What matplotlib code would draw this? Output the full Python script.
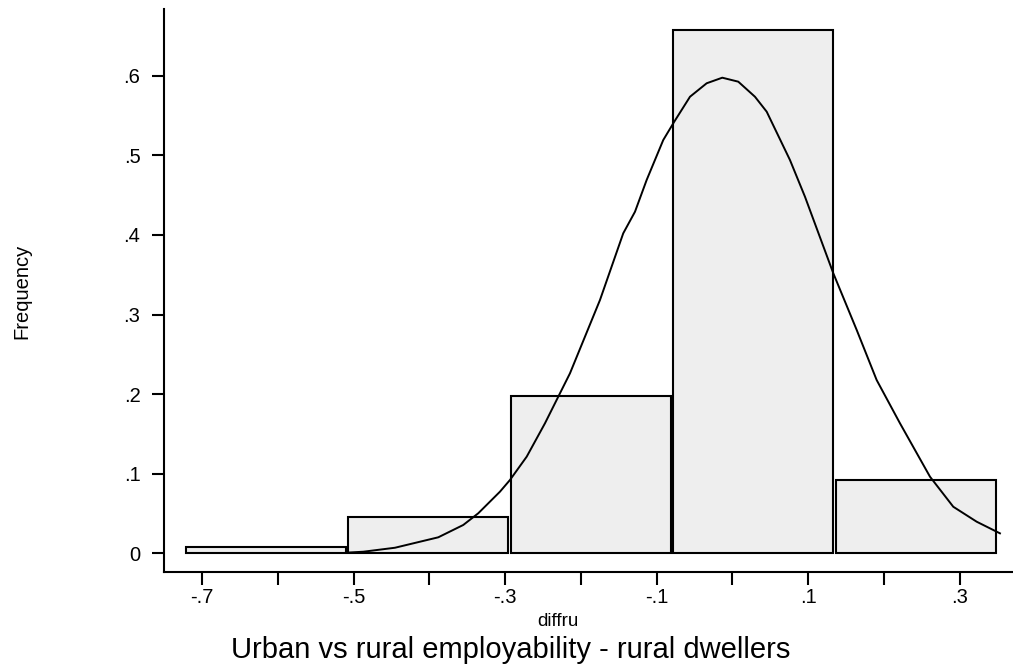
import matplotlib
matplotlib.use("Agg")
import matplotlib.pyplot as plt
import numpy as np

# Histogram bins (left edges, width) and heights
bin_left = [-0.7211, -0.5067, -0.2923, -0.0779, 0.1365]
bin_width = 0.2144
heights = [0.0085, 0.046, 0.197, 0.657, 0.092]

# Overlay curve points
curve_x = [-0.510, -0.4871, -0.4453, -0.3882, -0.3552, -0.3354, -0.3068, -0.2936,
           -0.2715, -0.2474, -0.2276, -0.2144, -0.1748, -0.1441, -0.1286, -0.1132,
           -0.0913, -0.0768, -0.0560, -0.0340, -0.0134, 0.0077, 0.0297, 0.0452,
           0.0759, 0.0957, 0.1331, 0.1640, 0.1903, 0.2211, 0.2607, 0.2914,
           0.3223, 0.3530]
curve_y = [0.0008, 0.0020, 0.0070, 0.0201, 0.0356, 0.0503, 0.0774, 0.0921,
           0.1214, 0.1633, 0.2010, 0.2261, 0.3182, 0.4020, 0.4291, 0.4690,
           0.5192, 0.5422, 0.5736, 0.5905, 0.5975, 0.5925, 0.5736, 0.5548,
           0.4941, 0.4480, 0.3518, 0.2805, 0.2177, 0.1633, 0.0962, 0.0585,
           0.0397, 0.0251]

xticks_major = [-0.7, -0.5, -0.3, -0.1, 0.1, 0.3]
xtick_labels = ["-.7", "-.5", "-.3", "-.1", ".1", ".3"]
xticks_minor = [-0.6, -0.4, -0.2, 0.0, 0.2]
yticks = [0, 0.1, 0.2, 0.3, 0.4, 0.5, 0.6]
ytick_labels = ["0", ".1", ".2", ".3", ".4", ".5", ".6"]

plt.rcParams['font.family'] = ['Liberation Sans', 'DejaVu Sans']

W, H = 1013, 667
fig = plt.figure(figsize=(W / 100, H / 100), dpi=100)
ax = fig.add_axes([164 / W, 1 - 571.7 / H, (1012 - 164) / W, (571.7 - 9) / H])

ax.bar(bin_left, heights, width=bin_width * 0.983, align='edge',
       facecolor='#eeeeee', edgecolor='black', linewidth=1.5, zorder=2)
ax.plot(curve_x, curve_y, color='black', linewidth=1.4, zorder=3)

ax.set_xlim(-0.7501, 0.3689)
ax.set_ylim(-0.0231, 0.6838)

for s in ['top', 'right']:
    ax.spines[s].set_visible(False)
for s in ['left', 'bottom']:
    ax.spines[s].set_linewidth(1.5)

ax.set_xticks(xticks_major)
ax.set_xticklabels(xtick_labels, fontsize=14.5)
ax.set_xticks(xticks_minor, minor=True)
ax.set_yticks(yticks)
ax.set_yticklabels(ytick_labels, fontsize=14.5)
ax.tick_params(axis='both', which='both', direction='out', length=9, width=1.5, color='black')
ax.tick_params(axis='x', which='major', pad=3)
ax.tick_params(axis='y', pad=8)

fig.text(557.5 / W, 1 - 622 / H, "diffru", fontsize=13.5, ha='center', va='center')
fig.text(511 / W, 1 - 650 / H, "Urban vs rural employability - rural dwellers",
         fontsize=21, ha='center', va='center')
fig.text(22 / W, 1 - 291 / H, "Frequency", fontsize=14.5, rotation=90,
         ha='center', va='center')

fig.savefig("out.png", dpi=100, facecolor='white')
